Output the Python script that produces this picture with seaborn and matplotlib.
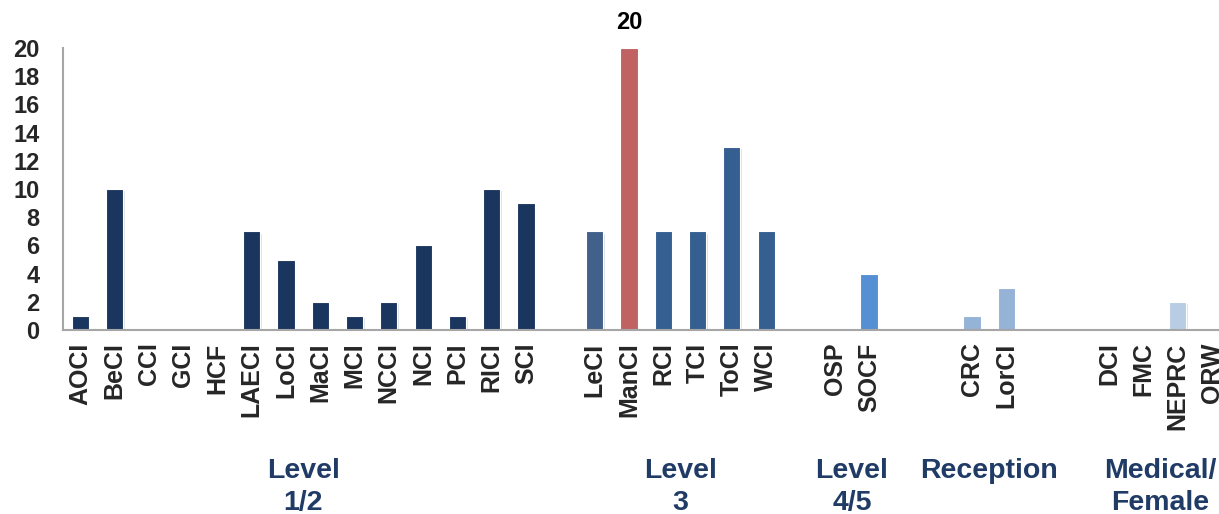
import numpy as np
import pandas as pd
import matplotlib
matplotlib.use("Agg")
import matplotlib.pyplot as plt
import matplotlib.patheffects as pe
from matplotlib.transforms import blended_transform_factory
import seaborn as sns

# ---------------- data ----------------
level12 = ["AOCI", "BeCI", "CCI", "GCI", "HCF", "LAECI", "LoCI", "MaCI", "MCI",
           "NCCI", "NCI", "PCI", "RICI", "SCI"]
level12_vals = [1, 10, 0, 0, 0, 7, 5, 2, 1, 2, 6, 1, 10, 9]

level3 = ["LeCI", "ManCI", "RCI", "TCI", "ToCI", "WCI"]
level3_vals = [7, 20, 7, 7, 13, 7]

level45 = ["OSP", "SOCF"]
level45_vals = [0, 4]

reception = ["CRC", "LorCI"]
reception_vals = [1, 3]

medical = ["DCI", "FMC", "NEPRC", "ORW"]
medical_vals = [0, 0, 2, 0]

group_names = ["Level\n1/2", "Level\n3", "Level\n4/5", "Reception", "Medical/\nFemale"]

# ---------------- style ----------------
bar_colors = {
    "AOCI": "#1B365E", "BeCI": "#1B365E", "CCI": "#1B365E", "GCI": "#1B365E",
    "HCF": "#1B365E", "LAECI": "#1B365E", "LoCI": "#1B365E", "MaCI": "#1B365E",
    "MCI": "#1B365E", "NCCI": "#1B365E", "NCI": "#1B365E", "PCI": "#1B365E",
    "RICI": "#1B365E", "SCI": "#1B365E",
    "LeCI": "#41618A", "ManCI": "#C06262", "RCI": "#355E91", "TCI": "#355E91",
    "ToCI": "#355E91", "WCI": "#355E91",
    "OSP": "#568FD4", "SOCF": "#568FD4",
    "CRC": "#95B3D7", "LorCI": "#95B3D7",
    "DCI": "#B8CCE4", "FMC": "#B8CCE4", "NEPRC": "#B8CCE4", "ORW": "#B8CCE4",
}
gaps_after = [1, 1, 2, 2]   # empty slots between groups

groups = [(level12, level12_vals), (level3, level3_vals), (level45, level45_vals),
          (reception, reception_vals), (medical, medical_vals)]

rows = []
order = []
group_slots = []
spacer = 0
for gi, (cats, vals) in enumerate(groups):
    start = len(order)
    for c, v in zip(cats, vals):
        rows.append({"cat": c, "value": v})
        order.append(c)
    group_slots.append((start, len(order) - 1))
    if gi < len(gaps_after):
        for _ in range(gaps_after[gi]):
            spacer += 1
            order.append(" " * spacer)
df = pd.DataFrame(rows)

sns.set_style("white")
plt.rcParams["font.family"] = ["Liberation Sans", "DejaVu Sans"]
plt.rcParams["font.weight"] = "bold"

W, H = 1219, 514
fig = plt.figure(figsize=(W / 100, H / 100), dpi=100)
slot_px = 34.3
n_slots_axis = 35
ax = fig.add_axes([63 / W, (H - 330) / H, n_slots_axis * slot_px / W, 282 / H])

sns.barplot(data=df, x="cat", y="value", order=order, hue="cat",
            hue_order=list(df["cat"]), palette=bar_colors, width=0.5,
            saturation=1, legend=False, dodge=False, ax=ax,
            edgecolor="white", linewidth=0.8)

shadow = [pe.SimplePatchShadow(offset=(1.2, -1.8), shadow_rgbFace="#8C8C8C", alpha=0.25),
          pe.Normal()]
for p in ax.patches:
    p.set_path_effects(shadow)

vmax = df["value"].max()
for cont in ax.containers:
    labels = [f"{b.get_height():.0f}" if b.get_height() == vmax else "" for b in cont]
    ax.bar_label(cont, labels=labels, padding=10, fontsize=17, fontweight="bold",
                 color="black")

ax.set_xlim(-0.5, n_slots_axis - 0.5)
ax.set_ylim(0, 20)
ax.set_yticks(np.arange(0, 21, 2))
ax.set_xticks(range(len(order)))
ax.set_xticklabels([o if o.strip() else "" for o in order], rotation=90,
                   fontsize=18, fontweight="bold")
ax.set_xticks(np.arange(-0.5, n_slots_axis, 1), minor=True)
ax.tick_params(axis="x", which="major", length=0, pad=9)
ax.tick_params(axis="x", which="minor", length=6, width=1.3, color="#A6A6A6",
               direction="out")
ax.tick_params(axis="y", length=6, width=1.3, color="#A6A6A6", direction="out",
               labelsize=17, pad=11)
for lab in ax.get_yticklabels():
    lab.set_fontweight("bold")
ax.set_xlabel("")
ax.set_ylabel("")
for s in ["top", "right"]:
    ax.spines[s].set_visible(False)
for s in ["left", "bottom"]:
    ax.spines[s].set_color("#A6A6A6")
    ax.spines[s].set_linewidth(1.5)

trans = blended_transform_factory(ax.transData, fig.transFigure)
for name, (a, b) in zip(group_names, group_slots):
    ax.text((a + b) / 2, (H - 458) / H, name, transform=trans, ha="center",
            va="top", fontsize=20.5, fontweight="bold", color="#1F3B66",
            linespacing=1.3, clip_on=False)

fig.savefig("out.png", dpi=100)
